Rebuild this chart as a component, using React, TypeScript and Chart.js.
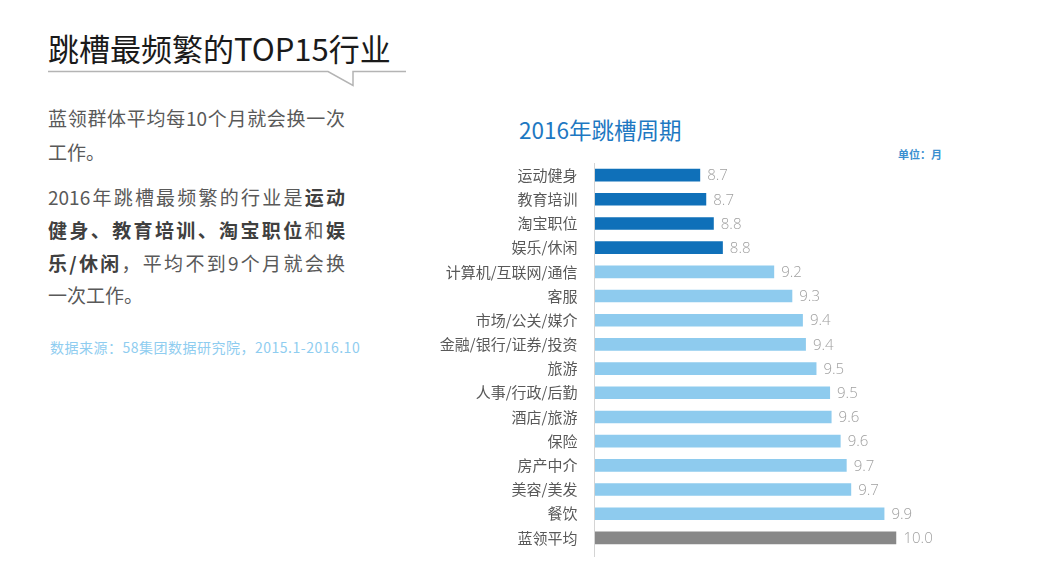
import React, { useEffect, useRef } from "react";
import { Chart, registerables } from "chart.js";

Chart.register(...registerables);

const categories = [
  "运动健身", "教育培训", "淘宝职位", "娱乐/休闲", "计算机/互联网/通信", "客服",
  "市场/公关/媒介", "金融/银行/证券/投资", "旅游", "人事/行政/后勤", "酒店/旅游",
  "保险", "房产中介", "美容/美发", "餐饮", "蓝领平均",
];
const values = [
  8.70, 8.74, 8.79, 8.85, 9.19, 9.31, 9.38, 9.40, 9.47, 9.56, 9.57, 9.63, 9.67, 9.70, 9.92, 10.0,
];
const valueLabels = [
  "8.7", "8.7", "8.8", "8.8", "9.2", "9.3", "9.4", "9.4", "9.5", "9.5", "9.6", "9.6", "9.7", "9.7", "9.9", "10.0",
];
const groups = [
  "top", "top", "top", "top", "other", "other", "other", "other", "other", "other", "other",
  "other", "other", "other", "other", "avg",
];
const groupColors: Record<string, string> = { top: "#0f70b9", other: "#8ecbee", avg: "#888888" };

const CJK = '"Noto Sans CJK SC", "Noto Sans", sans-serif';

const valueLabelPlugin = {
  id: "valueLabels",
  afterDatasetsDraw(chart: any) {
    const ctx = chart.ctx;
    const meta = chart.getDatasetMeta(0);
    ctx.save();
    ctx.font = '300 15px "Open Sans", "Noto Sans", sans-serif';
    ctx.fillStyle = "#a0a0a0";
    ctx.textAlign = "left";
    ctx.textBaseline = "middle";
    meta.data.forEach((bar: any, i: number) => {
      ctx.fillText(valueLabels[i], bar.x + 7, bar.y + 1);
    });
    ctx.restore();
  },
};

const axisLinePlugin = {
  id: "axisLine",
  afterDraw(chart: any) {
    const { ctx, chartArea } = chart;
    ctx.save();
    ctx.strokeStyle = "#d4d4d4";
    ctx.lineWidth = 1;
    ctx.beginPath();
    ctx.moveTo(Math.round(chartArea.left) - 0.5, chartArea.top);
    ctx.lineTo(Math.round(chartArea.left) - 0.5, chartArea.bottom + 7);
    ctx.stroke();
    ctx.restore();
  },
};

function BarChart() {
  const ref = useRef<HTMLCanvasElement>(null);
  useEffect(() => {
    if (!ref.current) return;
    const chart = new Chart(ref.current, {
      type: "bar",
      data: {
        labels: categories,
        datasets: [
          {
            data: values,
            backgroundColor: groups.map((g) => groupColors[g]),
            borderWidth: 0,
            barPercentage: 1,
            categoryPercentage: 0.52,
          },
        ],
      },
      options: {
        indexAxis: "y",
        animation: false,
        responsive: false,
        maintainAspectRatio: false,
        layout: { padding: { top: 12, bottom: 15, right: 63.5, left: 0 } },
        plugins: {
          legend: { display: false },
          tooltip: { enabled: false },
          title: { display: false },
        },
        scales: {
          x: { type: "linear", min: 8, max: 10, display: false },
          y: {
            grid: { display: false, drawTicks: false },
            border: { display: false },
            ticks: {
              color: "#595959",
              font: { family: CJK, size: 15 },
              padding: 17,
            },
            afterFit(scale: any) {
              scale.width = 174.5;
            },
          },
        },
      } as any,
      plugins: [valueLabelPlugin, axisLinePlugin],
    });
    return () => chart.destroy();
  }, []);
  return <canvas ref={ref} width={540} height={439} style={{ position: "absolute", left: 420, top: 137, width: 540, height: 439 }} />;
}

const lineStyle = (top: number): React.CSSProperties => ({
  position: "absolute",
  left: 48,
  top: top - 15,
  height: 30,
  lineHeight: "30px",
  fontSize: 19,
  color: "#595959",
  fontFamily: CJK,
  whiteSpace: "nowrap",
});
const justified = (top: number): React.CSSProperties => ({
  ...lineStyle(top),
  width: 297,
  textAlign: "justify",
  textAlignLast: "justify" as any,
});
const B = ({ children }: { children: React.ReactNode }) => (
  <span style={{ fontWeight: 700, color: "#404040" }}>{children}</span>
);

export default function App() {
  return (
    <div style={{ position: "fixed", left: 0, top: 0, width: 1037, height: 587, background: "#fff", overflow: "hidden" }}>
      <div style={{ position: "absolute", left: 48, top: 28, lineHeight: "40px", fontSize: 31, color: "#1a1a1a", fontFamily: CJK, whiteSpace: "nowrap" }}>
        跳槽最频繁的TOP15行业
      </div>
      <svg width={1037} height={120} style={{ position: "absolute", left: 0, top: 0 }}>
        <polyline points="48,71.5 328,71.5 353,85.5 353,71.5 406,71.5" fill="none" stroke="#b4b4b4" strokeWidth={1.5} />
      </svg>

      <div style={justified(118)}>蓝领群体平均每10个月就会换一次</div>
      <div style={lineStyle(152)}>工作。</div>
      <div style={justified(197)}>2016年跳槽最频繁的行业是<B>运动</B></div>
      <div style={justified(230)}><B>健身、教育培训、淘宝职位</B>和<B>娱</B></div>
      <div style={justified(263)}><B>乐/休闲</B>，平均不到9个月就会换</div>
      <div style={lineStyle(295)}>一次工作。</div>

      <div style={{ position: "absolute", left: 50, top: 337, lineHeight: "20px", fontSize: 14, letterSpacing: 0.5, color: "#8fcdf0", fontFamily: CJK, whiteSpace: "nowrap" }}>
        数据来源：58集团数据研究院，2015.1-2016.10
      </div>

      <div style={{ position: "absolute", left: 519, top: 115, lineHeight: "28px", fontSize: 22.5, color: "#1e78c2", fontFamily: CJK, whiteSpace: "nowrap" }}>
        2016年跳槽周期
      </div>
      <div style={{ position: "absolute", left: 898, top: 146, lineHeight: "16px", fontSize: 11, fontWeight: 700, color: "#3a8fd0", fontFamily: CJK, whiteSpace: "nowrap" }}>
        单位：月
      </div>

      <BarChart />
    </div>
  );
}
